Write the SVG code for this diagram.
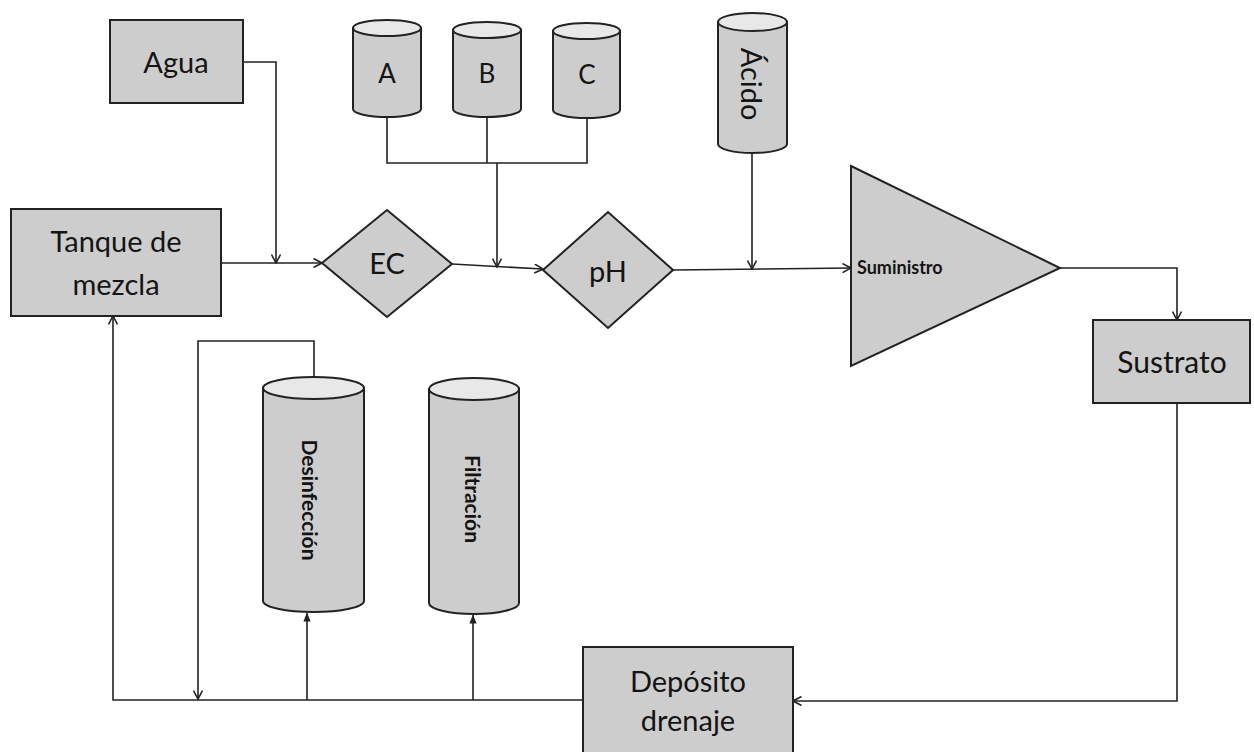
<svg xmlns="http://www.w3.org/2000/svg" width="1254" height="752" viewBox="0 0 1254 752">
<defs>
<style>
.box{fill:#cdcdcd;stroke:#222;stroke-width:2}
.top{fill:#e8e8e8;stroke:#222;stroke-width:2}
.lbl{font-family:Lato,"Liberation Sans",sans-serif;font-size:29px;fill:#141414;text-anchor:middle}
.vlbl{font-family:Lato,"Liberation Sans",sans-serif;font-weight:bold;fill:#141414;text-anchor:middle;dominant-baseline:central}
.ln{fill:none;stroke:#222;stroke-width:1.6}
.arr{marker-end:url(#chev)}
.arf{marker-end:url(#tri)}
</style>
<marker id="chev" viewBox="0 0 10 10" refX="9.5" refY="5" markerWidth="10" markerHeight="10" markerUnits="userSpaceOnUse" orient="auto">
<path d="M1,0.5 L9.5,5 L1,9.5" fill="none" stroke="#222" stroke-width="1.6"/>
</marker>
<marker id="tri" viewBox="0 0 10 10" refX="9.5" refY="5" markerWidth="9" markerHeight="9" markerUnits="userSpaceOnUse" orient="auto">
<path d="M0,1 L10,5 L0,9 Z" fill="#222"/>
</marker>
</defs>
<rect width="1254" height="752" fill="#ffffff"/>

<g id="connectors">
<polyline class="ln arr" points="243,62 276,62 276,263"/>
<line class="ln arr" x1="221" y1="263" x2="322" y2="263"/>
<polyline class="ln" points="387,117 387,163 587,163 587,118"/>
<line class="ln" x1="487" y1="117" x2="487" y2="163"/>
<line class="ln arr" x1="497" y1="163" x2="497" y2="267"/>
<line class="ln arr" x1="452" y1="264" x2="543" y2="269"/>
<line class="ln arr" x1="752" y1="153" x2="752" y2="269"/>
<line class="ln arr" x1="673" y1="270" x2="851" y2="268"/>
<polyline class="ln arr" points="1060,268 1177,268 1177,320"/>
<polyline class="ln arr" points="1177,403 1177,701 793,701"/>
<polyline class="ln arr" points="583,700 113,700 113,316"/>
<polyline class="ln arr" points="314,377 314,341 198,341 198,699"/>
<line class="ln arf" x1="307" y1="700" x2="307" y2="613"/>
<line class="ln arf" x1="473" y1="700" x2="473" y2="615"/>
</g>

<g id="agua">
<rect class="box" x="110" y="20" width="133" height="83"/>
<text class="lbl" x="176" y="73">Agua</text>
</g>

<g id="tanque">
<rect class="box" x="11" y="209" width="210" height="107"/>
<text class="lbl" x="116" y="252">Tanque de</text>
<text class="lbl" x="116" y="295">mezcla</text>
</g>

<g id="ec">
<polygon class="box" points="322,263 387,210 452,264 387,317"/>
<text class="lbl" x="387" y="274">EC</text>
</g>

<g id="ph">
<polygon class="box" points="543,270 608,212 673,270 608,328"/>
<text class="lbl" x="608" y="282">pH</text>
</g>

<g id="tankA">
<path class="box" d="M353,28 L353,109 A34,8 0 0 0 421,109 L421,28 Z"/>
<ellipse class="top" cx="387" cy="28" rx="34" ry="8"/>
<text class="lbl" x="387" y="83" style="font-size:26px">A</text>
</g>

<g id="tankB">
<path class="box" d="M453,30 L453,109 A34,8 0 0 0 521,109 L521,30 Z"/>
<ellipse class="top" cx="487" cy="30" rx="34" ry="8"/>
<text class="lbl" x="487" y="83" style="font-size:26px">B</text>
</g>

<g id="tankC">
<path class="box" d="M553,31 L553,110 A33.5,8 0 0 0 620,110 L620,31 Z"/>
<ellipse class="top" cx="586.5" cy="31" rx="33.5" ry="8"/>
<text class="lbl" x="587" y="84" style="font-size:26px">C</text>
</g>

<g id="acido">
<path class="box" d="M718,22 L718,144 A34.5,9 0 0 0 787,144 L787,22 Z"/>
<ellipse class="top" cx="752.5" cy="22" rx="34.5" ry="9"/>
<text class="vlbl" transform="translate(752,84) rotate(90)" x="0" y="0" style="font-weight:normal;font-size:29px">Ácido</text>
</g>

<g id="suministro">
<polygon class="box" points="851,166 1060,268 851,366"/>
<text x="857" y="274" style="font-family:Lato,'Liberation Sans',sans-serif;font-weight:bold;font-size:18px;fill:#141414">Suministro</text>
</g>

<g id="sustrato">
<rect class="box" x="1093" y="320" width="157" height="83"/>
<text class="lbl" x="1172" y="373" style="font-size:30px">Sustrato</text>
</g>

<g id="deposito">
<rect class="box" x="583" y="647" width="210" height="110"/>
<text class="lbl" x="688" y="692">Depósito</text>
<text class="lbl" x="688" y="731">drenaje</text>
</g>

<g id="desinfeccion">
<path class="box" d="M263,388 L263,601 A50.5,11 0 0 0 364,601 L364,388 Z"/>
<ellipse class="top" cx="313.5" cy="388" rx="50.5" ry="11"/>
<text class="vlbl" transform="translate(310,500) rotate(90)" style="font-size:21px">Desinfección</text>
</g>

<g id="filtracion">
<path class="box" d="M429,389 L429,603 A45,11 0 0 0 519,603 L519,389 Z"/>
<ellipse class="top" cx="474" cy="389" rx="45" ry="11"/>
<text class="vlbl" transform="translate(473,499) rotate(90)" style="font-size:21px">Filtración</text>
</g>
</svg>
